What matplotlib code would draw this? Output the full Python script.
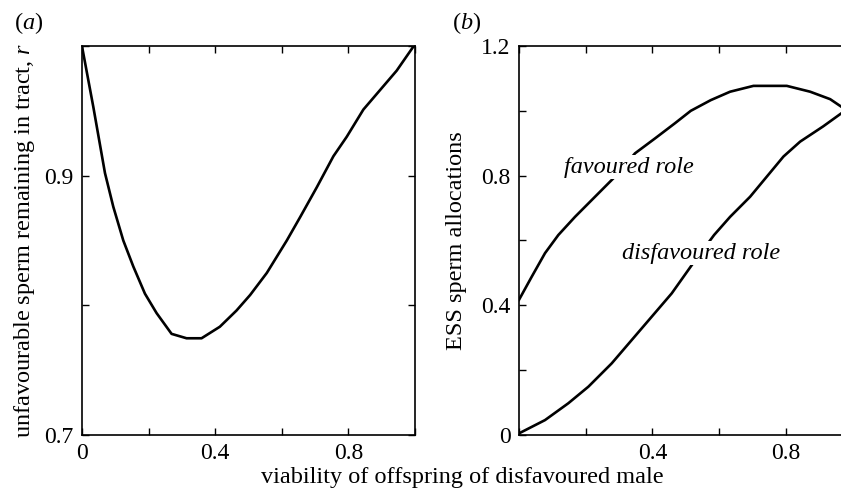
import matplotlib
matplotlib.use("Agg")
import matplotlib.pyplot as plt

# ---- data ----
x_a = [0.0, 0.002, 0.034, 0.069, 0.094, 0.124, 0.154, 0.189, 0.224, 0.269,
       0.314, 0.359, 0.414, 0.464, 0.505, 0.555, 0.615, 0.655, 0.705, 0.755,
       0.795, 0.845, 0.895, 0.945, 0.995, 1.0]
r_a = [1.0, 0.997, 0.953, 0.902, 0.876, 0.850, 0.830, 0.809, 0.794, 0.778,
       0.7746, 0.7746, 0.7835, 0.796, 0.808, 0.825, 0.850, 0.868, 0.891, 0.915,
       0.930, 0.951, 0.966, 0.981, 0.9995, 1.0]

x_fav = [0.0, 0.038, 0.078, 0.118, 0.168, 0.228, 0.288, 0.348, 0.408, 0.468,
         0.515, 0.575, 0.633, 0.703, 0.803, 0.873, 0.933, 0.966, 1.0]
y_fav = [0.417, 0.488, 0.561, 0.617, 0.673, 0.735, 0.797, 0.869, 0.915, 0.962,
         1.000, 1.033, 1.059, 1.077, 1.077, 1.059, 1.036, 1.013, 0.99]

x_dis = [0.0, 0.078, 0.148, 0.208, 0.278, 0.338, 0.398, 0.458, 0.518, 0.585,
         0.633, 0.693, 0.743, 0.793, 0.843, 0.912, 0.966, 1.0]
y_dis = [0.005, 0.046, 0.098, 0.149, 0.221, 0.293, 0.365, 0.437, 0.524, 0.617,
         0.673, 0.735, 0.797, 0.859, 0.905, 0.952, 0.992, 1.01]

xticks = [0.0, 0.2, 0.4, 0.6, 0.8, 1.0]
xticklabels_a = ['0', '', '0.4', '', '0.8', '']
xticklabels_b = ['', '', '0.4', '', '0.8', '']
yticks_a = [0.7, 0.8, 0.9, 1.0]
yticklabels_a = ['0.7', '', '0.9', '']
yticks_b = [0.0, 0.2, 0.4, 0.6, 0.8, 1.0, 1.2]
yticklabels_b = ['0', '', '0.4', '', '0.8', '', '1.2']

plt.rcParams['font.family'] = ['Liberation Serif', 'DejaVu Serif']
plt.rcParams['mathtext.fontset'] = 'custom'
plt.rcParams['mathtext.rm'] = 'Liberation Serif'
plt.rcParams['mathtext.it'] = 'Liberation Serif:italic'

fig = plt.figure(figsize=(8.41, 4.90), dpi=100)
W, H = 841, 490

def px_axes(l, t, r, b):
    return [l / W, 1 - b / H, (r - l) / W, (b - t) / H]

axa = fig.add_axes(px_axes(82, 46, 415, 435))
axb = fig.add_axes(px_axes(519, 46, 519 + 333.5, 435))

FS = 17.5
for ax in (axa, axb):
    for s in ax.spines.values():
        s.set_linewidth(1.2)
    ax.tick_params(direction='in', length=5, width=1.0, top=True, right=True,
                   labelsize=17, pad=6)

axa.plot(x_a, r_a, color='black', lw=1.9)
axa.set_xlim(0, 1)
axa.set_ylim(0.7, 1.0)
axa.set_xticks(xticks)
axa.set_xticklabels(xticklabels_a)
axa.set_yticks(yticks_a)
axa.set_yticklabels(yticklabels_a)
axa.set_ylabel('unfavourable sperm remaining in tract, $\\mathit{r}$', fontsize=FS)
axa.yaxis.set_label_coords(-0.135, 0.5)

axb.plot(x_fav, y_fav, color='black', lw=1.9)
axb.plot(x_dis, y_dis, color='black', lw=1.9)
axb.set_xlim(0, 1)
axb.set_ylim(0, 1.2)
axb.set_xticks(xticks)
axb.set_xticklabels(xticklabels_b)
axb.set_yticks(yticks_b)
axb.set_yticklabels(yticklabels_b)
axb.set_ylabel('ESS sperm allocations', fontsize=FS)
axb.yaxis.set_label_coords(-0.156, 0.5)

bb = dict(facecolor='white', edgecolor='none', pad=1.0)
axb.text(0.330, 0.826, 'favoured role', style='italic', fontsize=FS,
         ha='center', va='center', bbox=bb)
axb.text(0.545, 0.561, 'disfavoured role', style='italic', fontsize=FS,
         ha='center', va='center', bbox=bb)

fig.text(462 / W, 1 - 483 / H, 'viability of offspring of disfavoured male',
         fontsize=FS, ha='center', va='baseline')
fig.text(29 / W, 1 - 23 / H, '($a$)', fontsize=FS, ha='center', va='center')
fig.text(467 / W, 1 - 23 / H, '($b$)', fontsize=FS, ha='center', va='center')

fig.savefig('out.png', dpi=100)
